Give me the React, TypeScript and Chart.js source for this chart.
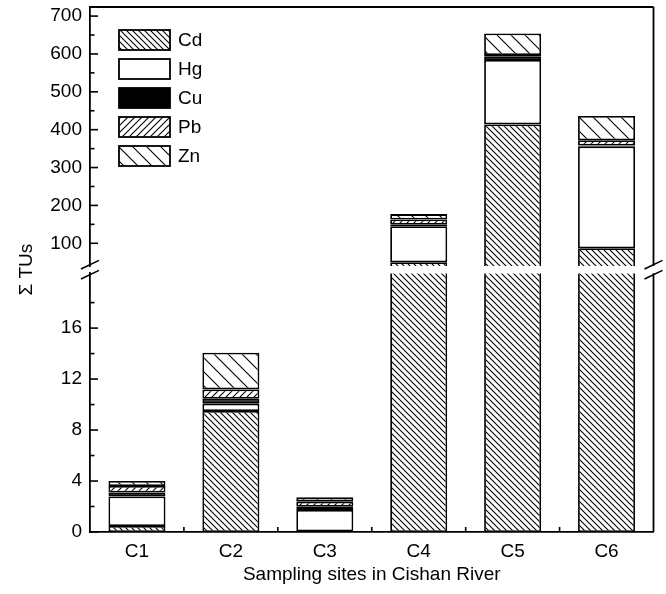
import React, { useEffect, useRef } from 'react';
import { Chart, registerables } from 'chart.js';

Chart.register(...registerables);

// ---- data ----
const categories = ['C1', 'C2', 'C3', 'C4', 'C5', 'C6'];
const metals = ['Cd', 'Hg', 'Cu', 'Pb', 'Zn'];
const cd = [0.47, 9.49, 0.05, 50, 414, 87];
const hg = [2.31, 0.58, 1.68, 95, 170, 269];
const cu = [0.31, 0.39, 0.25, 4, 10, 2];
const pb = [0.52, 0.73, 0.4, 14, 3, 14];
const zn = [0.39, 2.88, 0.34, 14, 57, 64];

const lowTicks = [0, 4, 8, 12, 16];
const lowMinorTicks = [2, 6, 10, 14, 18];
const highTicks = [100, 200, 300, 400, 500, 600, 700];
const highMinorTicks = [150, 250, 350, 450, 550, 650];

const LOW_MIN = 0;
const LOW_MAX = 20.3;
const HIGH_MIN = 40;
const HIGH_MAX = 724;

const FONT = 'Liberation Sans';
const LW = 1.8;

function hatch(spacing: number, dir: 'back' | 'fwd', lw: number) {
  const c = document.createElement('canvas');
  c.width = spacing;
  c.height = spacing;
  const g = c.getContext('2d')!;
  g.fillStyle = '#fff';
  g.fillRect(0, 0, spacing, spacing);
  g.strokeStyle = '#000';
  g.lineWidth = lw;
  g.beginPath();
  for (let k = -1; k <= 1; k++) {
    if (dir === 'back') {
      g.moveTo(k * spacing - 1, -1);
      g.lineTo(k * spacing + spacing + 1, spacing + 1);
    } else {
      g.moveTo(k * spacing - 1, spacing + 1);
      g.lineTo(k * spacing + spacing + 1, -1);
    }
  }
  g.stroke();
  return g.createPattern(c, 'repeat');
}

function seg(a: number, b: number, lo: number, hi: number) {
  const s = Math.max(a, lo);
  const e = Math.min(b, hi);
  return e > s ? [s, e] : null;
}

const noPad = (s: any) => {
  s.paddingTop = 0;
  s.paddingBottom = 0;
};

const decor = {
  id: 'decor',
  afterDraw(chart: any) {
    const ctx = chart.ctx;
    const { left, right, top, bottom } = chart.chartArea;
    const yH = chart.scales.yHigh;
    const yL = chart.scales.yLow;
    const xs = chart.scales.x;
    ctx.save();
    ctx.strokeStyle = '#000';
    ctx.lineWidth = LW;
    const line = (x1: number, y1: number, x2: number, y2: number) => {
      ctx.beginPath();
      ctx.moveTo(x1, y1);
      ctx.lineTo(x2, y2);
      ctx.stroke();
    };
    // frame: top and right
    line(left, top, right, top);
    line(right, yH.top, right, yH.bottom);
    line(right, yL.top, right, yL.bottom);
    // inward ticks
    ctx.lineWidth = 1.6;
    highTicks.forEach((v) => { const y = yH.getPixelForValue(v); line(left, y, left + 8, y); });
    highMinorTicks.forEach((v) => { const y = yH.getPixelForValue(v); line(left, y, left + 4.5, y); });
    lowTicks.forEach((v) => { const y = yL.getPixelForValue(v); line(left, y, left + 8, y); });
    lowMinorTicks.forEach((v) => { const y = yL.getPixelForValue(v); line(left, y, left + 4.5, y); });
    for (let i = 1; i < categories.length; i++) {
      const xb = (xs.getPixelForValue(i - 1) + xs.getPixelForValue(i)) / 2;
      line(xb, bottom, xb, bottom - 5);
    }
    // break marks
    const mid = (yH.bottom + yL.top) / 2;
    [left, right].forEach((ax) => {
      [mid - 5, mid + 5].forEach((yc) => line(ax - 9, yc + 4.3, ax + 9, yc - 4.3));
    });
    // legend
    const items = chart.data.datasets.slice(0, metals.length);
    items.forEach((ds: any, i: number) => {
      const bx = left + 29;
      const by = top + 23 + i * 29;
      ctx.fillStyle = ds.backgroundColor;
      ctx.fillRect(bx, by, 51, 20);
      ctx.lineWidth = LW;
      ctx.strokeRect(bx, by, 51, 20);
      ctx.fillStyle = '#000';
      ctx.font = `19px "${FONT}"`;
      ctx.textBaseline = 'middle';
      ctx.textAlign = 'left';
      ctx.fillText(ds.label, bx + 59, by + 11);
    });
    ctx.restore();
  },
};

export default function App() {
  const ref = useRef<HTMLCanvasElement | null>(null);
  useEffect(() => {
    if (!ref.current) return;
    Chart.defaults.font.family = FONT;
    Chart.defaults.color = '#000';
    const cdPat = hatch(6, 'back', 1.1);
    const pbPat = hatch(7, 'fwd', 1.1);
    const znPat = hatch(14, 'back', 1.1);
    const fills: any[] = [cdPat, '#ffffff', '#000000', pbPat, znPat];
    const series = [cd, hg, cu, pb, zn];
    const starts: number[][] = [];
    const ends: number[][] = [];
    const acc = categories.map(() => 0);
    series.forEach((s, m) => {
      starts[m] = acc.slice();
      s.forEach((v, i) => { acc[i] += v; });
      ends[m] = acc.slice();
    });
    const datasets: any[] = [];
    const common = {
      borderColor: '#000',
      borderWidth: LW,
      grouped: false,
      barPercentage: 0.607,
      categoryPercentage: 1,
    };
    metals.forEach((name, m) => {
      datasets.push({
        ...common,
        label: name,
        yAxisID: 'yLow',
        backgroundColor: fills[m],
        data: categories.map((_, i) => seg(starts[m][i], ends[m][i], LOW_MIN, LOW_MAX)),
        borderSkipped: (c: any) => (ends[m][c.dataIndex] > LOW_MAX ? 'top' : false),
      });
    });
    metals.forEach((name, m) => {
      datasets.push({
        ...common,
        label: name,
        yAxisID: 'yHigh',
        backgroundColor: fills[m],
        data: categories.map((_, i) => seg(starts[m][i], ends[m][i], HIGH_MIN, HIGH_MAX)),
        borderSkipped: (c: any) => (starts[m][c.dataIndex] < HIGH_MIN ? 'bottom' : false),
      });
    });
    const tickFont = { family: FONT, size: 19 };
    const titleFont = { family: FONT, size: 19 };
    const chart = new Chart(ref.current, {
      type: 'bar',
      data: { labels: categories, datasets },
      options: {
        animation: false,
        responsive: false,
        devicePixelRatio: 1,
        layout: { padding: { left: 0, right: 12.5, top: 7, bottom: 0 } },
        plugins: { legend: { display: false }, tooltip: { enabled: false } },
        scales: {
          x: {
            type: 'category',
            offset: true,
            grid: { display: false, drawTicks: false },
            border: { display: true, color: '#000', width: LW },
            ticks: { font: tickFont, color: '#000', padding: 8 },
            title: {
              display: true,
              text: 'Sampling sites in Cishan River',
              font: titleFont,
              color: '#000',
              padding: { top: 0, bottom: 8 },
            },
            afterFit: (s: any) => {
              s.height = 62;
              s.paddingLeft = 0;
              s.paddingRight = 0;
            },
          },
          yLow: {
            type: 'linear',
            position: 'left',
            stack: 'v',
            stackWeight: 258.7,
            min: LOW_MIN,
            max: LOW_MAX,
            afterBuildTicks: (s: any) => { s.ticks = lowTicks.map((v) => ({ value: v })); },
            grid: { display: false, drawTicks: false },
            border: { display: true, color: '#000', width: LW },
            ticks: { font: tickFont, color: '#000', padding: 8, autoSkip: false },
            afterFit: (s: any) => { s.width = 90; noPad(s); },
          },
          yGap: {
            type: 'linear',
            position: 'left',
            stack: 'v',
            stackWeight: 7.3,
            min: 0,
            max: 1,
            grid: { display: false, drawTicks: false },
            border: { display: false },
            ticks: { display: false },
            title: {
              display: true,
              text: 'Σ TUs',
              font: titleFont,
              color: '#000',
              padding: { top: 15, bottom: 0 },
            },
            afterFit: (s: any) => { s.width = 90; noPad(s); },
          },
          yHigh: {
            type: 'linear',
            position: 'left',
            stack: 'v',
            stackWeight: 259,
            min: HIGH_MIN,
            max: HIGH_MAX,
            afterBuildTicks: (s: any) => { s.ticks = highTicks.map((v) => ({ value: v })); },
            grid: { display: false, drawTicks: false },
            border: { display: true, color: '#000', width: LW },
            ticks: { font: tickFont, color: '#000', padding: 8, autoSkip: false },
            afterFit: (s: any) => { s.width = 90; noPad(s); },
          },
        },
      } as any,
      plugins: [decor],
    });
    return () => chart.destroy();
  }, []);
  return (
    <div style={{ position: 'absolute', left: 0, top: 0, width: 666, height: 594, background: '#fff' }}>
      <canvas ref={ref} width={666} height={594} />
    </div>
  );
}
